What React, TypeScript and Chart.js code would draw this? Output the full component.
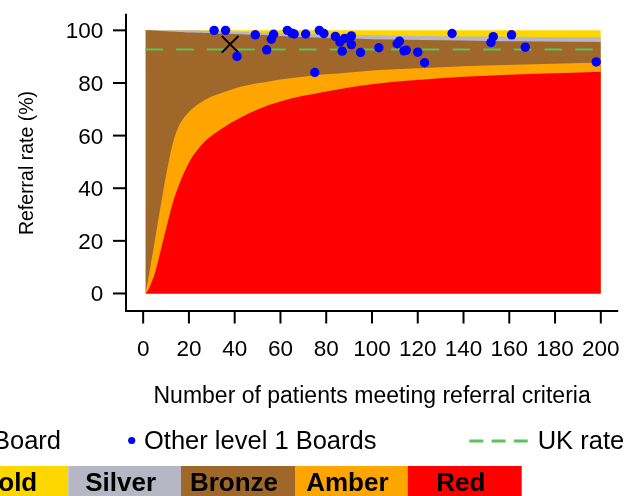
import React, { useEffect, useRef } from "react";
import { Chart, registerables } from "chart.js";

Chart.register(...registerables);

// ---- data ----
const bandX = [1, 2, 3, 4, 5, 6, 7, 8, 9, 10, 11, 12, 13, 14, 15, 16, 18, 20, 22, 25, 28, 32, 36, 40, 45, 50, 55, 60, 70, 80, 90, 100, 115, 130, 150, 175, 200];
const redTop = [0, 1.0, 2.8, 5.0, 7.3, 10.5, 14.0, 17.6, 21.1, 24.6, 28.0, 31.5, 34.6, 37.3, 39.8, 42.1, 46.2, 49.7, 52.6, 56.0, 58.6, 61.3, 63.6, 65.6, 67.9, 69.9, 71.6, 73.0, 75.1, 76.8, 78.3, 79.5, 80.8, 81.8, 82.7, 83.6, 84.3];
const amberTop = [0, 4.5, 9.5, 14.5, 19.6, 24.8, 30.0, 35.0, 40.2, 44.8, 49.3, 53.6, 57.2, 60.1, 62.4, 64.3, 67.0, 69.0, 70.6, 72.5, 74.0, 75.5, 76.8, 77.9, 79.0, 79.9, 80.6, 81.3, 82.4, 83.3, 84.0, 84.7, 85.4, 86.0, 86.6, 87.2, 87.8];
const bronzeTop = [100, 100, 100, 99.95, 99.9, 99.85, 99.8, 99.75, 99.7, 99.65, 99.6, 99.55, 99.5, 99.45, 99.4, 99.35, 99.3, 99.2, 99.15, 99.05, 98.95, 98.85, 98.75, 98.6, 98.45, 98.3, 98.1, 97.9, 97.5, 97.2, 96.9, 96.65, 96.4, 96.2, 96.0, 95.8, 95.6];
const silverTop = [100, 100, 100, 100, 100, 100, 100, 100, 100, 100, 100, 100, 100, 100, 100, 100, 100, 100, 100, 99.95, 99.85, 99.75, 99.6, 99.5, 99.35, 99.2, 99.05, 98.9, 98.7, 98.5, 98.3, 98.15, 97.95, 97.8, 97.7, 97.5, 97.4];
const goldX = [1, 200];
const goldTop = [100, 100];

const boardN = [31, 36, 41, 49, 54, 56, 57, 63, 65, 66, 71, 75, 77, 79, 84, 86, 87, 88, 91, 91, 95, 103, 111, 112, 114, 115, 120, 123, 135, 152, 153, 161, 167, 198];
const boardRate = [100, 100, 90.1, 98.3, 92.6, 96.6, 98.5, 100, 98.9, 98.6, 98.6, 84.0, 100, 98.8, 97.7, 95.6, 92.1, 96.9, 97.9, 94.6, 91.6, 93.4, 94.9, 95.9, 92.2, 92.5, 91.7, 87.7, 98.8, 95.4, 97.6, 98.3, 93.6, 88.0];

const thisBoardN = [38];
const thisBoardRate = [94.7];

const ukX = [1, 200];
const ukRate = [92.7, 92.7];

const xTicks = [0, 20, 40, 60, 80, 100, 120, 140, 160, 180, 200];
const yTicks = [0, 20, 40, 60, 80, 100];

const bandNames = ["Gold", "Silver", "Bronze", "Amber", "Red"];
const bandColors = ["#FFD700", "#B6B6C4", "#A0672B", "#FFA500", "#FF0000"];

const xTitle = "Number of patients meeting referral criteria";
const yTitle = "Referral rate (%)";
const legendThis = "This Board";
const legendOther = "Other level 1 Boards";
const legendUK = "UK rate";

const UK_COLOR = "#5CC25C";
const FONT = "'Liberation Sans', Arial, sans-serif";

function pts(xs: number[], ys: number[]) {
  return xs.map((x, i) => ({ x, y: ys[i] }));
}

const axesPlugin = {
  id: "rAxes",
  afterDraw(chart: any) {
    const ctx = chart.ctx as CanvasRenderingContext2D;
    const { left, right, top, bottom } = chart.chartArea;
    const xs = chart.scales.x;
    const ys = chart.scales.y;
    ctx.save();
    ctx.strokeStyle = "#000";
    ctx.lineWidth = 2;
    ctx.lineCap = "butt";
    // axis lines (L box)
    ctx.beginPath();
    ctx.moveTo(left, top);
    ctx.lineTo(left, bottom);
    ctx.lineTo(right, bottom);
    ctx.stroke();
    // y ticks
    ctx.fillStyle = "#000";
    ctx.font = `22.5px ${FONT}`;
    ctx.textAlign = "right";
    ctx.textBaseline = "alphabetic";
    for (const v of yTicks) {
      const py = ys.getPixelForValue(v);
      ctx.beginPath();
      ctx.moveTo(left - 13, py);
      ctx.lineTo(left, py);
      ctx.stroke();
      ctx.fillText(String(v), left - 22.7, py + 8);
    }
    // x ticks
    ctx.textAlign = "center";
    for (const v of xTicks) {
      const px = xs.getPixelForValue(v);
      ctx.beginPath();
      ctx.moveTo(px, bottom);
      ctx.lineTo(px, bottom + 12.5);
      ctx.stroke();
      ctx.fillText(String(v), px, 356);
    }
    // titles
    ctx.font = `23px ${FONT}`;
    ctx.fillText(xTitle, (left + right) / 2, 403);
    ctx.save();
    ctx.translate(33, 163);
    ctx.rotate(-Math.PI / 2);
    ctx.font = `19.5px ${FONT}`;
    ctx.textAlign = "center";
    ctx.fillText(yTitle, 0, 0);
    ctx.restore();

    // legend row 1
    ctx.font = `25.5px ${FONT}`;
    ctx.textAlign = "right";
    ctx.fillText(legendThis, 61, 449.3);
    // X marker for this board (off to the left)
    ctx.lineWidth = 2;
    ctx.beginPath();
    const mx = -84, my = 440.5, mr = 8.3;
    ctx.moveTo(mx - mr, my - mr);
    ctx.lineTo(mx + mr, my + mr);
    ctx.moveTo(mx - mr, my + mr);
    ctx.lineTo(mx + mr, my - mr);
    ctx.stroke();

    ctx.fillStyle = "#0000FF";
    ctx.beginPath();
    ctx.arc(131.7, 440.5, 3.6, 0, Math.PI * 2);
    ctx.fill();
    ctx.fillStyle = "#000";
    ctx.textAlign = "left";
    ctx.fillText(legendOther, 144, 449.3);

    ctx.strokeStyle = UK_COLOR;
    ctx.lineWidth = 3;
    ctx.setLineDash([14, 8.3]);
    ctx.beginPath();
    ctx.moveTo(469.3, 441);
    ctx.lineTo(527.7, 441);
    ctx.stroke();
    ctx.setLineDash([]);
    ctx.fillText(legendUK, 537.7, 449.3);

    // legend row 2 (colour boxes)
    const edges = [-45, 68.3, 181, 295, 407.7, 521.7];
    ctx.font = `bold 26px ${FONT}`;
    ctx.textAlign = "center";
    for (let i = 0; i < bandNames.length; i++) {
      ctx.fillStyle = bandColors[i];
      ctx.fillRect(edges[i], 466, edges[i + 1] - edges[i], 34);
      ctx.fillStyle = "#000";
      ctx.fillText(bandNames[i], (edges[i] + edges[i + 1]) / 2 - 4, 491);
    }
    ctx.restore();
  },
};

export default function App() {
  const ref = useRef<HTMLCanvasElement>(null);
  useEffect(() => {
    const band = (label: string, xs: number[], ys: number[], color: string, order: number) => ({
      type: "line" as const,
      label,
      data: pts(xs, ys),
      borderWidth: 0,
      borderColor: color,
      backgroundColor: color,
      pointRadius: 0,
      fill: "origin",
      cubicInterpolationMode: "monotone" as const,
      order,
    });
    const chart = new Chart(ref.current!, {
      type: "scatter",
      data: {
        datasets: [
          {
            type: "scatter",
            label: legendOther,
            data: pts(boardN, boardRate),
            backgroundColor: "#0000FF",
            borderWidth: 0,
            pointRadius: 4.7,
            order: 0,
          } as any,
          {
            type: "scatter",
            label: legendThis,
            data: pts(thisBoardN, thisBoardRate),
            pointStyle: "crossRot",
            pointRadius: 11.8,
            borderColor: "#000",
            borderWidth: 2,
            order: 1,
          } as any,
          {
            type: "line",
            label: legendUK,
            data: pts(ukX, ukRate),
            borderColor: UK_COLOR,
            borderWidth: 2,
            borderDash: [17.5, 13.2],
            pointRadius: 0,
            fill: false,
            order: 2,
          } as any,
          band("Red", bandX, redTop, bandColors[4], 3),
          band("Amber", bandX, amberTop, bandColors[3], 4),
          band("Bronze", bandX, bronzeTop, bandColors[2], 5),
          band("Silver", bandX, silverTop, bandColors[1], 6),
          band("Gold", goldX, goldTop, bandColors[0], 7),
        ] as any,
      },
      options: {
        animation: false,
        responsive: true,
        maintainAspectRatio: false,
        layout: { padding: { left: 126, right: 9, top: 11, bottom: 185 } },
        plugins: { legend: { display: false }, tooltip: { enabled: false } },
        scales: {
          x: { type: "linear", min: -7.5, max: 207.6, display: false },
          y: { type: "linear", min: -6.66, max: 106.29, display: false },
        },
      },
      plugins: [axesPlugin],
    });
    return () => chart.destroy();
  }, []);
  return (
    <div style={{ position: "fixed", left: 0, top: 0, width: 632, height: 496, background: "#fff" }}>
      <canvas ref={ref} />
    </div>
  );
}
